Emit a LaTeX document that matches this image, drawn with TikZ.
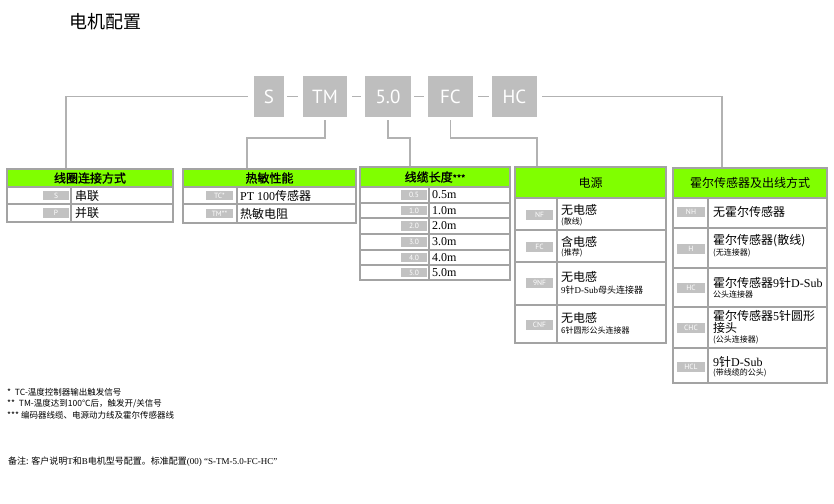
\documentclass[tikz,border=0pt]{standalone}
\usepackage{fontspec}
\setmainfont{Liberation Serif}
\newfontfamily\cjk{Noto Sans CJK SC}
\newfontfamily\cjkb[FakeBold=1.2]{Noto Sans CJK SC}
\newfontfamily\ptsans{PT Sans}
\definecolor{codegray}{HTML}{BEBEBE}
\definecolor{linegray}{HTML}{B2B2B2}
\definecolor{taggray}{HTML}{C2C2C2}
\definecolor{bordergray}{HTML}{A3A3A3}
\definecolor{hdrgreen}{HTML}{80FF00}
\newcommand\fs[1]{\fontsize{#1}{#1}\selectfont}
\begin{document}
\begin{tikzpicture}[x=1pt,y=-1pt,
  codebox/.style={fill=codegray, text=white, font=\ptsans\fs{19}, inner sep=0pt, minimum height=41pt},
  conn/.style={draw=linegray, line width=1.1pt},
  hdr/.style={fill=hdrgreen, draw=bordergray, line width=1pt, inner sep=0pt, font=\cjk\fs{12}, text=black},
  grid/.style={draw=bordergray, line width=1.2pt},
  outer/.style={draw=bordergray, line width=2pt},
  tag/.style={fill=taggray, text=white, font=\ptsans\fs{7.5}, inner sep=0pt, minimum height=9.5pt, minimum width=27pt},
  cell/.style={anchor=west, inner sep=0pt, font=\fs{12}, text=black},
  sub/.style={anchor=west, inner sep=0pt, font=\cjk\fs{8}, text=black},
  foot/.style={anchor=west, inner sep=0pt, font=\cjk\fs{8.5}, text=black}
]
\useasboundingbox (0,0) rectangle (834,503);

% title
\node[anchor=west, inner sep=0pt, font=\cjk\fs{18}] (title) at (69,22) {电机配置};

% code boxes
\node[codebox, minimum width=30pt] (S) at (269,96.5) {S};
\node[codebox, minimum width=44pt] (TM) at (325,96.5) {TM};
\node[codebox, minimum width=46pt] (L) at (388,96.5) {5.0};
\node[codebox, minimum width=45pt] (FC) at (450.5,96.5) {FC};
\node[codebox, minimum width=45pt] (HC) at (514.5,96.5) {HC};

\draw[conn] ([xshift=3pt]S.east) -- ([xshift=-5pt]TM.west);
\draw[conn] ([xshift=5pt]TM.east) -- ([xshift=-4pt]L.west);
\draw[conn] ([xshift=3pt]L.east) -- ([xshift=-4pt]FC.west);
\draw[conn] ([xshift=5pt]FC.east) -- ([xshift=-3pt]HC.west);

% table headers
\node[hdr, font=\cjkb\fs{12}, minimum width=166pt, minimum height=18pt] (h1) at (90,178) {线圈连接方式};
\node[hdr, font=\cjkb\fs{12}, minimum width=173pt, minimum height=18pt] (h2) at (269.5,178) {热敏性能};
\node[hdr, font=\cjkb\fs{12}, minimum width=150pt, minimum height=20pt] (h3) at (435,177) {线缆长度{\fs{9}***}};
\node[hdr, minimum width=151pt, minimum height=31pt] (h4) at (590.5,182.5) {电源};
\node[hdr, minimum width=154pt, minimum height=30pt] (h5) at (750,183) {霍尔传感器及出线方式};

% connectors
\coordinate (k1) at (66,0);
\coordinate (k2) at (247,138);
\coordinate (k3) at (410,138);
\coordinate (k4) at (537,138);
\coordinate (k5) at (722,0);
\draw[conn] ([xshift=-6pt]S.west) -| (h1.north -| k1);
\draw[conn] ([yshift=-3pt]TM.south) |- (k2) -- (k2 |- h2.north);
\draw[conn] ([yshift=-3pt]L.south) |- (k3) -- (k3 |- h3.north);
\draw[conn] ([yshift=-3pt]FC.south) |- (k4) -- (k4 |- h4.north);
\draw[conn] ([xshift=5pt]HC.east) -| (h5.north -| k5);

% ---------- table 1
\draw[grid] (7,187) rectangle (173,204) (7,204) rectangle (173,222) (71,187) -- (71,222);
\node[tag, minimum width=26pt] (t1a) at (56,195.5) {S};
\node[tag, minimum width=26pt] (t1b) at (56,213) {P};
\node[cell] at (75,195.5) {\cjk 串联};
\node[cell] at (75,213) {\cjk 并联};
\draw[outer] (7,169) rectangle (173,222);

% ---------- table 2
\draw[grid] (183,187) rectangle (356,204) (183,204) rectangle (356,223) (237,187) -- (237,223);
\node[tag] (t2a) at (219.5,195.5) {TC*};
\node[tag] (t2b) at (219.5,213.5) {TM**};
\node[cell] at (240,195.5) {PT 100{\cjk 传感器}};
\node[cell] at (240,213.5) {\cjk 热敏电阻};
\draw[outer] (183,169) rectangle (356,223);

% ---------- table 3
\foreach \a/\b/\t in {187/203/0.5, 203/218/1.0, 218/234/2.0, 234/250/3.0, 250/265/4.0, 265/280/5.0}{
  \draw[grid] (360,\a) rectangle (510,\b);
  \node[tag, minimum width=26pt] at (414,{(\a+\b)/2}) {\t};
  \node[cell] at (432,{(\a+\b)/2}) {\t m};
}
\draw[grid] (429,187) -- (429,280);
\draw[outer] (360,167) rectangle (510,280);

% ---------- table 4
\draw[grid] (515,198) rectangle (666,230) (515,230) rectangle (666,262)
            (515,262) rectangle (666,305) (515,305) rectangle (666,343) (557,198) -- (557,343);
\node[tag] (t4a) at (539.5,215) {NF};
\node[tag] (t4b) at (539.5,247) {FC};
\node[tag] (t4c) at (539.5,283) {9NF};
\node[tag] (t4d) at (539.5,325) {CNF};
\node[cell] at (561,210) {\cjk 无电感};
\node[sub] at (561,222) {(散线)};
\node[cell] at (561,242) {\cjk 含电感};
\node[sub] at (561,253) {(推荐)};
\node[cell] at (561,277) {\cjk 无电感};
\node[sub, font=\fs{9}] at (561,290) {9{\cjk 针}D-Sub{\cjk 母头连接器}};
\node[cell] at (561,318) {\cjk 无电感};
\node[sub] at (561,330) {6针圆形公头连接器};
\draw[outer] (515,167) rectangle (666,343);

% ---------- table 5
\draw[grid] (673,198) rectangle (827,228) (673,228) rectangle (827,268) (673,268) rectangle (827,307)
            (673,307) rectangle (827,348) (673,348) rectangle (827,383) (708,198) -- (708,383);
\node[tag, minimum width=28pt] (t5a) at (691,212) {NH};
\node[tag, minimum width=28pt] (t5b) at (691,249) {H};
\node[tag, minimum width=28pt] (t5c) at (691,288) {HC};
\node[tag, minimum width=28pt] (t5d) at (691,328) {CHC};
\node[tag, minimum width=28pt] (t5e) at (691,367) {HCL};
\node[cell] at (713,212) {\cjk 无霍尔传感器};
\node[cell] at (713,241) {\cjk 霍尔传感器(散线)};
\node[sub] at (713,253) {(无连接器)};
\node[cell] at (713,283) {{\cjk 霍尔传感器}9{\cjk 针}D-Sub};
\node[sub] at (713,294) {公头连接器};
\node[cell] at (713,316) {{\cjk 霍尔传感器}5{\cjk 针圆形}};
\node[cell] at (713,328) {\cjk 接头};
\node[sub] at (713,340) {(公头连接器)};
\node[cell] at (713,362) {9{\cjk 针}D-Sub};
\node[sub] at (713,373) {(带线缆的公头)};
\draw[outer] (673,168) rectangle (827,383);

% footnotes
\node[foot] (f1) at (7,392) {*\ \ TC-温度控制器输出触发信号};
\node[foot] (f2) at (7,403.5) {**\ \ TM-温度达到100℃后，触发开/关信号};
\node[foot] (f3) at (7,415) {***\ 编码器线缆、电源动力线及霍尔传感器线};

% note
\node[anchor=west, inner sep=0pt, font=\fs{9}] (note) at (8,462)
  {{\cjk 备注: 客户说明}T{\cjk 和}B{\cjk 电机型号配置。标准配置}(00) “S-TM-5.0-FC-HC”};
\end{tikzpicture}
\end{document}
